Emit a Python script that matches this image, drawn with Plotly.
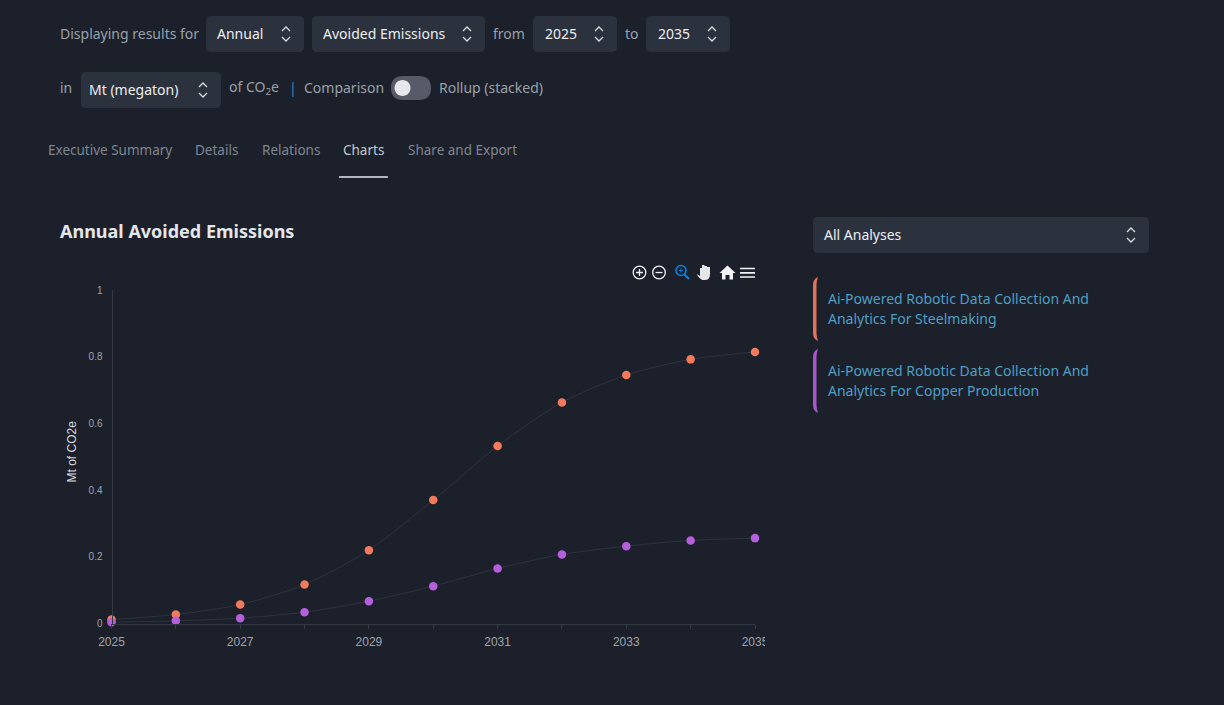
import plotly.graph_objects as go

W, H = 1224, 705
BG = "#1b202b"
BOX = "#2b323e"
MUTED = "#9aa0a9"
UI = "Noto Sans"

years = [2025, 2026, 2027, 2028, 2029, 2030, 2031, 2032, 2033, 2034, 2035]
steelmaking = [0.012, 0.027, 0.057, 0.117, 0.22, 0.37, 0.532, 0.663, 0.745, 0.792, 0.814]
copper = [0.004, 0.008, 0.016, 0.034, 0.067, 0.112, 0.165, 0.207, 0.232, 0.249, 0.256]
x_ticks = [2025, 2027, 2029, 2031, 2033, 2035]
x_tick_labels = ["2025", "2027", "2029", "2031", "2033", "2035"]
y_ticks = [0, 0.2, 0.4, 0.6, 0.8, 1]
y_tick_labels = ["0", "0.2", "0.4", "0.6", "0.8", "1"]
steel_name = "Ai-Powered Robotic Data Collection And Analytics For Steelmaking"
copper_name = "Ai-Powered Robotic Data Collection And Analytics For Copper Production"


def X(p):
    return round(p / W, 5)


def Y(p):
    return round(1 - p / H, 5)


def path(cmds):
    out = []
    for c in cmds:
        if isinstance(c, str):
            out.append(c)
        else:
            out.append(f"{X(c[0])},{Y(c[1])}")
    return " ".join(out)


shapes, annotations = [], []


def add_path(cmds, fill=None, line=None, width=1, layer="above"):
    shapes.append(dict(type="path", xref="paper", yref="paper", path=path(cmds), layer=layer,
                       fillcolor=fill if fill else "rgba(0,0,0,0)",
                       line=dict(color=line if line else "rgba(0,0,0,0)", width=width if line else 0)))


def rrect(x0, y0, x1, y1, r, fill):
    add_path(["M", (x0 + r, y0), "L", (x1 - r, y0), "Q", (x1, y0), (x1, y0 + r),
              "L", (x1, y1 - r), "Q", (x1, y1), (x1 - r, y1),
              "L", (x0 + r, y1), "Q", (x0, y1), (x0, y1 - r),
              "L", (x0, y0 + r), "Q", (x0, y0), (x0 + r, y0), "Z"], fill=fill, layer="below")


def circle(cx, cy, r, fill=None, line=None, width=1):
    k = 0.5523 * r
    add_path(["M", (cx - r, cy),
              "C", (cx - r, cy - k), (cx - k, cy - r), (cx, cy - r),
              "C", (cx + k, cy - r), (cx + r, cy - k), (cx + r, cy),
              "C", (cx + r, cy + k), (cx + k, cy + r), (cx, cy + r),
              "C", (cx - k, cy + r), (cx - r, cy + k), (cx - r, cy), "Z"],
             fill=fill, line=line, width=width)


def text(s, x, y, color=MUTED, size=14, family=UI, anchor="left", bold=False, angle=0):
    annotations.append(dict(text=f"<b>{s}</b>" if bold else s, x=X(x), y=Y(y), xref="paper", yref="paper",
                            xanchor=anchor, yanchor="middle", showarrow=False, textangle=angle,
                            font=dict(color=color, size=size, family=family), borderpad=0, borderwidth=0))


def chevrons(cx, cy):
    add_path(["M", (cx - 4, cy - 3), "L", (cx, cy - 7), "L", (cx + 4, cy - 3)], line="#d8dade", width=1.3)
    add_path(["M", (cx - 4, cy + 3), "L", (cx, cy + 7), "L", (cx + 4, cy + 3)], line="#d8dade", width=1.3)


def select(x0, y0, x1, y1, label, tx, chev):
    rrect(x0, y0, x1, y1, 5, BOX)
    text(label, tx, (y0 + y1) / 2 - 0.5, color="#eceef0", size=14)
    chevrons(chev, (y0 + y1) / 2)


# Filter rows
text("Displaying results for", 60, 33.5)
select(206, 16, 304, 52, "Annual", 217, 286)
select(312, 16, 485, 52, "Avoided Emissions", 323, 467)
text("from", 493, 33.5)
select(533, 16, 617, 52, "2025", 545, 599)
text("to", 625, 33.5)
select(646, 16, 730, 52, "2035", 658, 712)
text("in", 60, 88)
select(81, 72, 221, 108, "Mt (megaton)", 89, 203)
text("of CO<sub>2</sub>e", 229, 88)
text("|", 289, 88, color="#3f87b5")
text("Comparison", 304, 88)
rrect(391, 76, 431, 100, 12, "#565b67")
circle(402.5, 88, 8, fill="#e7e8eb")
text("Rollup (stacked)", 439, 88)

# Tabs
TAB = 13.5
text("Executive Summary", 48.5, 149.5, color="#7f8691", size=TAB)
text("Details", 195, 149.5, color="#7f8691", size=TAB)
text("Relations", 262, 149.5, color="#7f8691", size=TAB)
text("Charts", 343, 149.5, color="#c3c7cc", size=TAB)
text("Share and Export", 408, 149.5, color="#7f8691", size=TAB)
rrect(339, 176, 388, 178, 0.5, "#b4b8be")

# Chart heading
text("Annual Avoided Emissions", 60, 231, color="#e4e6e9", size=18, bold=True)

# Right panel
select(813, 217, 1149, 253, "All Analyses", 824, 1131)


def card_bar(y0, y1, color):
    add_path(["M", (818, y0), "Q", (813, y0 + 2), (813, y0 + 8), "L", (813, y1 - 8),
              "Q", (813, y1 - 2), (818, y1), "Q", (816.5, y1 - 4), (816.5, y1 - 8),
              "L", (816.5, y0 + 8), "Q", (816.5, y0 + 4), (818, y0), "Z"], fill=color)


card_bar(277, 341, "#e0735c")
text("Ai-Powered Robotic Data Collection And", 828, 299, color="#4f9fc4")
text("Analytics For Steelmaking", 828, 319, color="#4f9fc4")
card_bar(349, 413, "#a658cb")
text("Ai-Powered Robotic Data Collection And", 828, 371, color="#4f9fc4")
text("Analytics For Copper Production", 828, 390.5, color="#4f9fc4")

# Chart toolbar
WHITE = "#f2f3f4"
circle(639.5, 272.5, 6.3, line=WHITE, width=1.3)
add_path(["M", (636, 272.5), "L", (643, 272.5), "M", (639.5, 269), "L", (639.5, 276)], line=WHITE, width=1.3)
circle(659, 272.5, 6.3, line=WHITE, width=1.3)
add_path(["M", (655.5, 272.5), "L", (662.5, 272.5)], line=WHITE, width=1.3)
BLUE = "#0a84e0"
circle(681, 270.5, 5, line=BLUE, width=1.6)
add_path(["M", (684.5, 274.5), "L", (689, 279)], line=BLUE, width=2.2)
add_path(["M", (679, 270.5), "L", (683, 270.5), "M", (681, 268.5), "L", (681, 272.5)], line=BLUE, width=1)
add_path(["M", (696.5, 274), "L", (700, 276), "L", (700, 268), "L", (702, 268), "L", (702, 265),
          "L", (704.5, 265), "L", (704.5, 266), "L", (707, 266), "L", (707, 267), "L", (710, 267),
          "L", (710, 274), "Q", (710, 280), (705, 280), "L", (702.5, 280), "Q", (699.5, 279), (696.5, 274), "Z"],
         fill="#e6e7e9")
add_path(["M", (719.5, 273), "L", (727.5, 265.5), "L", (735.5, 273), "L", (733, 273), "L", (733, 279.5),
          "L", (729.5, 279.5), "L", (729.5, 275), "L", (725.5, 275), "L", (725.5, 279.5), "L", (722, 279.5),
          "L", (722, 273), "Z"], fill=WHITE)
add_path(["M", (740, 268.5), "L", (755, 268.5), "M", (740, 272.8), "L", (755, 272.8), "M", (740, 277), "L", (755, 277)],
         line=WHITE, width=1.7)

# Cover that clips the last x tick label, as in the source page
shapes.append(dict(type="rect", xref="paper", yref="paper", x0=X(765), x1=X(800), y0=Y(655), y1=Y(630),
                   fillcolor=BG, line=dict(width=0), layer="above"))

text("Mt of CO2e", 72, 451.5, color="#d8dade", size=12, family="Liberation Sans", anchor="center", angle=-90)

LINE = "#343944"
fig = go.Figure()
fig.add_trace(go.Scatter(x=years, y=steelmaking, name=steel_name, mode="lines+markers", cliponaxis=False,
                         line=dict(color="#2e333d", width=1, shape="spline", smoothing=0.8),
                         marker=dict(color="#f47a5c", size=8.5)))
fig.add_trace(go.Scatter(x=years, y=copper, name=copper_name, mode="lines+markers", cliponaxis=False,
                         line=dict(color="#2e333d", width=1, shape="spline", smoothing=0.8),
                         marker=dict(color="#b65fdd", size=8.5)))

fig.update_layout(
    width=W, height=H, autosize=False, paper_bgcolor=BG, plot_bgcolor=BG,
    margin=dict(l=0, r=0, t=0, b=0, pad=0), showlegend=False,
    shapes=shapes, annotations=annotations,
    xaxis=dict(domain=[X(111.5), X(755)], range=[2025, 2035], automargin=False, tickmode="array",
               tickvals=x_ticks, ticktext=x_tick_labels, ticks="outside", ticklen=4, tickwidth=1,
               tickcolor=LINE, tickangle=0, showgrid=False, zeroline=False, showline=True,
               linecolor=LINE, linewidth=1, ticklabelstandoff=3,
               minor=dict(dtick=1, ticks="outside", ticklen=4, tickcolor=LINE),
               tickfont=dict(family="Liberation Sans", size=12, color="#a0a4ab")),
    yaxis=dict(domain=[Y(623.5), Y(290)], range=[0, 1], automargin=False, tickmode="array", tickvals=y_ticks,
               ticktext=y_tick_labels, ticks="", showgrid=False, zeroline=False, showline=True,
               anchor="free", position=X(112.5), linecolor=LINE, linewidth=1, ticklabelstandoff=8,
               tickfont=dict(family="Liberation Sans", size=10, color="#a0a4ab")),
)
fig.write_html("out.html", config=dict(displayModeBar=False),
               post_script="document.body.style.margin='0';document.body.style.background='" + BG + "';")
